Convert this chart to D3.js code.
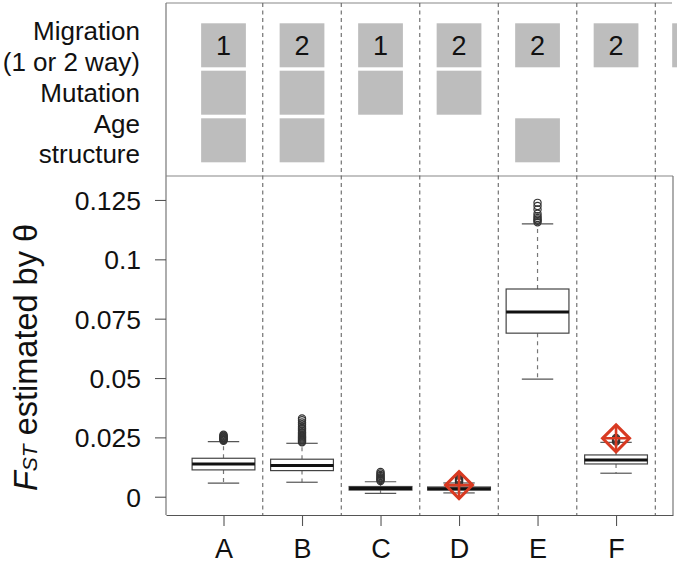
<!DOCTYPE html>
<html>
<head>
<meta charset="utf-8">
<script src="https://cdn.jsdelivr.net/npm/d3@7"></script>
<style>
  html, body { margin: 0; padding: 0; background: #fff; }
  svg { display: block; font-family: "Liberation Sans", Arial, Helvetica, sans-serif; }
</style>
</head>
<body>
<svg id="chart" width="677" height="563"></svg>
<script>
// ---------- data ----------
const categories = ["A", "B", "C", "D", "E", "F"];
const whiskerLow  = [0.0057, 0.0061, 0.0014, 0.0016, 0.0495, 0.0099];
const quartile1   = [0.0113, 0.0110, 0.0028, 0.0028, 0.0689, 0.0138];
const medians     = [0.0138, 0.0132, 0.0035, 0.0034, 0.0778, 0.0155];
const quartile3   = [0.0162, 0.0158, 0.0043, 0.0041, 0.0875, 0.0176];
const whiskerHigh = [0.0232, 0.0225, 0.0063, 0.0058, 0.1149, 0.0229];
const outliers = [
  [0.0236, 0.0239, 0.0242, 0.0245, 0.0248, 0.0251, 0.0254, 0.0257, 0.0261],
  [0.0229, 0.0233, 0.0237, 0.0241, 0.0245, 0.0249, 0.0253, 0.0257, 0.0262, 0.0267, 0.0272, 0.0278, 0.0284, 0.0290, 0.0297, 0.0305, 0.0313, 0.0322, 0.0330],
  [0.0066, 0.0070, 0.0074, 0.0078, 0.0082, 0.0087, 0.0092, 0.0098, 0.0104],
  [0.0061, 0.0065, 0.0069, 0.0073, 0.0077],
  [0.1156, 0.1162, 0.1168, 0.1174, 0.1182, 0.1192, 0.1210, 0.1225, 0.1238],
  [0.0232, 0.0236, 0.0240, 0.0244, 0.0248]
];
const observed = [null, null, null, 0.0049, null, 0.0246];
const yTicks = [0, 0.025, 0.05, 0.075, 0.1, 0.125];
const yTickLabels = ["0", "0.025", "0.05", "0.075", "0.1", "0.125"];

// top design panel (7th column is cut off at the right edge)
const rowLabelLines = ["Migration", "(1 or 2 way)", "Mutation", "Age", "structure"];
const migration    = ["1", "2", "1", "2", "2", "2", ""];
const mutation     = [1, 1, 1, 1, 0, 0, 0];
const ageStructure = [1, 1, 0, 0, 1, 0, 0];

// ---------- layout ----------
const svg = d3.select("#chart");
const left = 166, right = 673, plotTop = 176, plotBottom = 515, panelTop = 3;

const x = d3.scaleLinear().domain([0.2675, 6.7255]).range([left, right]);
const y = d3.scaleLinear().domain([-0.0077, 0.1351]).range([plotBottom, plotTop]);
const unit = x(2) - x(1);

const axisColor = "#555";
const font = "'Liberation Sans', Arial, Helvetica, sans-serif";

// ---------- top panel ----------
const rowTop = [23.3, 70.7, 118.3];
const rowH = 44;
const rectW = 0.57 * unit;
const gray = "#bdbdbd";

const designG = svg.append("g");
const rows = [migration.map(d => d !== null), mutation.map(d => d === 1), ageStructure.map(d => d === 1)];
rows.forEach((flags, r) => {
  designG.selectAll(null)
    .data(flags.map((f, i) => ({ f, i })).filter(d => d.f))
    .enter().append("rect")
    .attr("x", d => x(d.i + 1) - rectW / 2)
    .attr("y", rowTop[r])
    .attr("width", rectW)
    .attr("height", rowH)
    .attr("fill", gray);
});
designG.selectAll(null)
  .data(migration.map((t, i) => ({ t, i })).filter(d => d.t !== ""))
  .enter().append("text")
  .attr("x", d => x(d.i + 1))
  .attr("y", rowTop[0] + rowH / 2 + 9.5)
  .attr("text-anchor", "middle")
  .attr("font-size", 27)
  .attr("fill", "#111")
  .text(d => d.t);

// row labels
const labelBaselines = [39.5, 70.5, 101.5, 132.5, 163];
svg.append("g").selectAll("text")
  .data(rowLabelLines)
  .enter().append("text")
  .attr("x", 140)
  .attr("y", (d, i) => labelBaselines[i])
  .attr("text-anchor", "end")
  .attr("font-size", 26)
  .attr("fill", "#111")
  .text(d => d);

// panel frame
svg.append("line").attr("x1", left).attr("x2", right - 1).attr("y1", panelTop).attr("y2", panelTop)
  .attr("stroke", "#888").attr("stroke-width", 1.2);
svg.append("line").attr("x1", left).attr("x2", left).attr("y1", panelTop).attr("y2", plotBottom)
  .attr("stroke", "#777").attr("stroke-width", 1.2);
svg.append("line").attr("x1", left).attr("x2", right).attr("y1", plotTop).attr("y2", plotTop)
  .attr("stroke", "#888").attr("stroke-width", 1.2);
svg.append("line").attr("x1", right).attr("x2", right).attr("y1", plotTop).attr("y2", plotBottom)
  .attr("stroke", "#777").attr("stroke-width", 1.2);

// dashed separators
const seps = d3.range(1.5, 7, 1);
svg.append("g").selectAll("line")
  .data(seps).enter().append("line")
  .attr("x1", d => x(d)).attr("x2", d => x(d))
  .attr("y1", panelTop).attr("y2", plotBottom)
  .attr("stroke", "#666").attr("stroke-width", 1.1)
  .attr("stroke-dasharray", "4,3.5");

// ---------- box plots ----------
const boxW = 0.8 * unit, capW = 0.4 * unit;
const boxes = svg.append("g");
categories.forEach((c, i) => {
  const cx = x(i + 1);
  const g = boxes.append("g");
  g.append("line").attr("x1", cx).attr("x2", cx).attr("y1", y(quartile3[i])).attr("y2", y(whiskerHigh[i]))
    .attr("stroke", "#777").attr("stroke-width", 1.2).attr("stroke-dasharray", "4,4");
  g.append("line").attr("x1", cx).attr("x2", cx).attr("y1", y(quartile1[i])).attr("y2", y(whiskerLow[i]))
    .attr("stroke", "#777").attr("stroke-width", 1.2).attr("stroke-dasharray", "4,4");
  [whiskerHigh[i], whiskerLow[i]].forEach(v => {
    g.append("line").attr("x1", cx - capW / 2).attr("x2", cx + capW / 2).attr("y1", y(v)).attr("y2", y(v))
      .attr("stroke", "#555").attr("stroke-width", 1.2);
  });
  g.append("rect").attr("x", cx - boxW / 2).attr("width", boxW)
    .attr("y", y(quartile3[i])).attr("height", y(quartile1[i]) - y(quartile3[i]))
    .attr("fill", "#fff").attr("stroke", "#444").attr("stroke-width", 1.2);
  g.append("line").attr("x1", cx - boxW / 2).attr("x2", cx + boxW / 2).attr("y1", y(medians[i])).attr("y2", y(medians[i]))
    .attr("stroke", "#111").attr("stroke-width", 3);
  g.selectAll("circle").data(outliers[i]).enter().append("circle")
    .attr("cx", cx).attr("cy", v => y(v)).attr("r", 3.6)
    .attr("fill", "none").attr("stroke", "#333").attr("stroke-width", 1.2);
});

// observed values (red diamond with plus)
const red = "#d83a22";
const obs = svg.append("g");
observed.forEach((v, i) => {
  if (v === null) return;
  const cx = x(i + 1), cy = y(v), h = 13.5;
  obs.append("path")
    .attr("d", `M${cx},${cy - h}L${cx + h},${cy}L${cx},${cy + h}L${cx - h},${cy}Z`)
    .attr("fill", "none").attr("stroke", red).attr("stroke-width", 3);
  obs.append("path")
    .attr("d", `M${cx - h},${cy}L${cx + h},${cy}M${cx},${cy - h}L${cx},${cy + h}`)
    .attr("fill", "none").attr("stroke", red).attr("stroke-width", 2.6);
});

// ---------- axes ----------
const yAxis = d3.axisLeft(y).tickValues(yTicks).tickSize(11).tickSizeOuter(0).tickPadding(14)
  .tickFormat((d, i) => yTickLabels[i]);
const gy = svg.append("g").attr("transform", `translate(${left},0)`).call(yAxis);
gy.select(".domain").remove();
gy.selectAll("line").attr("stroke", axisColor).attr("stroke-width", 1.1);
gy.selectAll("text").attr("font-size", 26.5).attr("font-family", font).attr("fill", "#111").attr("dy", "0.36em");

const xAxis = d3.axisBottom(x).tickValues([1, 2, 3, 4, 5, 6]).tickSize(11).tickSizeOuter(0).tickPadding(13)
  .tickFormat(d => categories[d - 1]);
const gx = svg.append("g").attr("transform", `translate(0,${plotBottom})`).call(xAxis);
gx.select(".domain").attr("stroke", axisColor).attr("stroke-width", 1.2);
gx.selectAll("line").attr("stroke", axisColor).attr("stroke-width", 1.1);
gx.selectAll("text").attr("font-size", 27).attr("font-family", font).attr("fill", "#111");

// y-axis title
const title = svg.append("text")
  .attr("transform", `translate(37,${(plotTop + plotBottom) / 2 + 12}) rotate(-90)`)
  .attr("text-anchor", "middle")
  .attr("font-size", 32.5)
  .attr("fill", "#111");
title.append("tspan").attr("font-style", "italic").text("F");
title.append("tspan").attr("font-size", 21).attr("font-style", "italic").text("ST");
title.append("tspan").text(" estimated by θ");
</script>
</body>
</html>
